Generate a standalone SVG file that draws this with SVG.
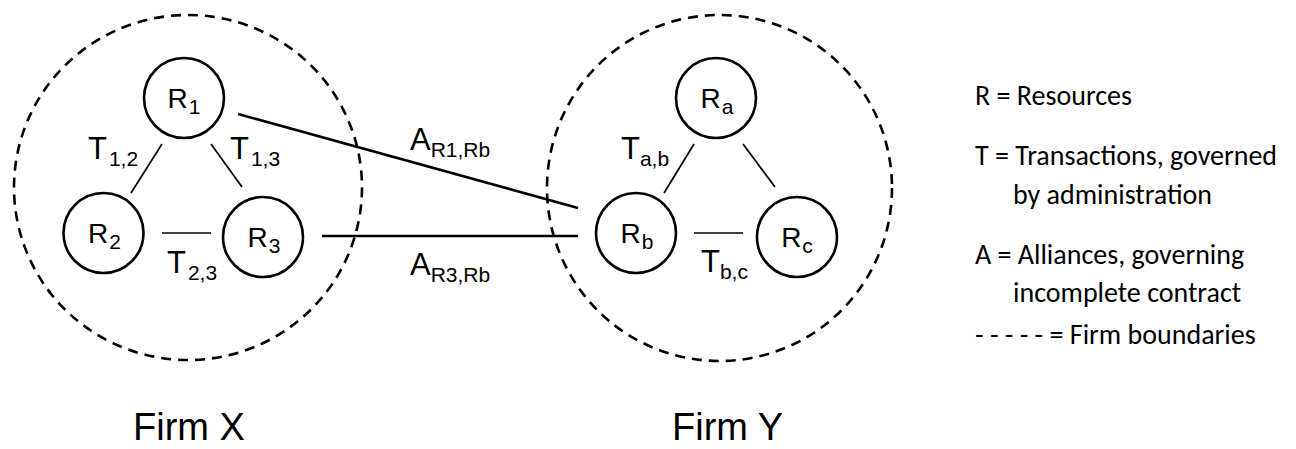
<svg xmlns="http://www.w3.org/2000/svg" width="1296" height="449" viewBox="0 0 1296 449">
<style>
.bg{fill:#fff}
.firm{fill:none;stroke:#000;stroke-width:2.6;stroke-dasharray:10 7}
.res{fill:#fff;stroke:#000;stroke-width:2.6}
.t{stroke:#000;stroke-width:1.7;fill:none}
.a{stroke:#000;stroke-width:2.6;fill:none}
.lbl{font-family:"Liberation Sans",Arial,sans-serif;fill:#000}
.rl{font-size:28px}
.tl{font-size:31px}
.sub{font-size:21px}
.leg{font-family:Carlito,Lato,"Open Sans",sans-serif;font-size:28px;fill:#000}
.firmlbl{font-family:"Liberation Sans",Arial,sans-serif;font-size:38px;fill:#000}
</style>
<rect class="bg" x="0" y="0" width="1296" height="449"/>
<g id="firmX">
<ellipse class="firm" cx="188" cy="187.5" rx="174" ry="172.5"/>
<text class="firmlbl" x="133" y="440">Firm X</text>
</g>
<g id="firmY">
<ellipse class="firm" cx="719.5" cy="188" rx="172.5" ry="173"/>
<text class="firmlbl" x="672" y="440">Firm Y</text>
</g>
<g id="connectors">
<line class="t" x1="162" y1="144" x2="131" y2="193"/>
<line class="t" x1="211" y1="144" x2="242" y2="187"/>
<line class="t" x1="162" y1="233" x2="211" y2="233"/>
<line class="t" x1="694" y1="144" x2="664" y2="193"/>
<line class="t" x1="743" y1="144" x2="775" y2="187"/>
<line class="t" x1="694" y1="233" x2="743" y2="233"/>
<line class="a" x1="238" y1="114" x2="578" y2="208"/>
<line class="a" x1="322" y1="236" x2="578" y2="236"/>
<text class="lbl tl" x="88" y="159">T<tspan class="sub" dx="2" dy="7">1,2</tspan></text>
<text class="lbl tl" x="230" y="159">T<tspan class="sub" dx="2" dy="7">1,3</tspan></text>
<text class="lbl tl" x="167" y="273">T<tspan class="sub" dx="2" dy="7">2,3</tspan></text>
<text class="lbl tl" x="621" y="159">T<tspan class="sub" dx="0" dy="7">a,b</tspan></text>
<text class="lbl tl" x="701" y="272">T<tspan class="sub" dx="0" dy="7">b,c</tspan></text>
<text class="lbl tl" x="410" y="150">A<tspan class="sub" dx="0" dy="7">R1,Rb</tspan></text>
<text class="lbl tl" x="410" y="275">A<tspan class="sub" dx="0" dy="7">R3,Rb</tspan></text>
</g>
<g id="R1">
<circle class="res" cx="184" cy="98" r="40"/>
<text class="lbl rl" x="184" y="108" text-anchor="middle">R<tspan class="sub" dx="1" dy="6">1</tspan></text>
</g>
<g id="R2">
<circle class="res" cx="103.5" cy="233" r="40"/>
<text class="lbl rl" x="104.5" y="243" text-anchor="middle">R<tspan class="sub" dx="1" dy="6">2</tspan></text>
</g>
<g id="R3">
<circle class="res" cx="263" cy="237" r="40"/>
<text class="lbl rl" x="264" y="247" text-anchor="middle">R<tspan class="sub" dx="1" dy="6">3</tspan></text>
</g>
<g id="Ra">
<circle class="res" cx="716" cy="98" r="40"/>
<text class="lbl rl" x="717" y="108" text-anchor="middle">R<tspan class="sub" dx="1" dy="6">a</tspan></text>
</g>
<g id="Rb">
<circle class="res" cx="636" cy="233" r="40"/>
<text class="lbl rl" x="637" y="243" text-anchor="middle">R<tspan class="sub" dx="1" dy="6">b</tspan></text>
</g>
<g id="Rc">
<circle class="res" cx="797" cy="237" r="40"/>
<text class="lbl rl" x="797" y="247" text-anchor="middle">R<tspan class="sub" dx="1" dy="6">c</tspan></text>
</g>
<g id="legend">
<text class="leg" x="975" y="105">R = Resources</text>
<text class="leg" x="975" y="165">T = Transactions, governed</text>
<text class="leg" x="1013" y="204">by administration</text>
<text class="leg" x="975" y="264">A = Alliances, governing</text>
<text class="leg" x="1013" y="302">incomplete contract</text>
<text class="leg" x="975" y="344">- - - - - = Firm boundaries</text>
</g>
</svg>
